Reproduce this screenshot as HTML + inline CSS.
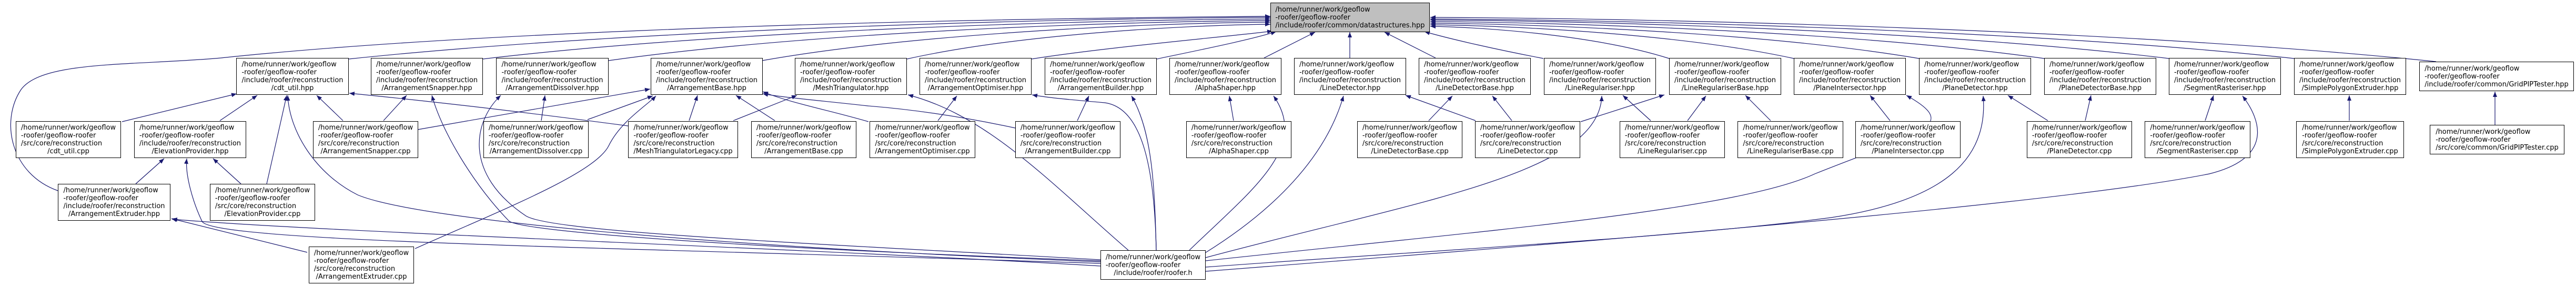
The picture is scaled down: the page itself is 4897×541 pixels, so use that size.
<!DOCTYPE html>
<html><head><meta charset="utf-8">
<style>
html,body{margin:0;padding:0;background:#fff;}
body{width:4897px;height:541px;position:relative;overflow:hidden;}
svg{position:absolute;left:0;top:0;}
.n{position:absolute;border:1px solid #000;background:#fff;box-sizing:border-box;display:flex;align-items:center;justify-content:center;font:13px/15px "DejaVu Sans","Liberation Sans",sans-serif;color:#000;}
.n>div{white-space:nowrap;text-align:left;}
.n .c{text-align:center;}
.g{background:#bfbfbf;}
</style></head><body>
<svg width="4897" height="541" viewBox="0 0 4897 541">
<defs><marker id="a" markerUnits="userSpaceOnUse" markerWidth="11" markerHeight="8" refX="10" refY="4" orient="auto"><path d="M0,0 L10,4 L0,8 z" fill="#191970"/></marker></defs>
<g fill="none" stroke="#191970" stroke-width="1.2" marker-end="url(#a)">
<!-- to datastructures -->
<path d="M110,362 C20,330 0,230 40,170 C80,115 250,125 420,110 C800,70 1500,38 2415,31"/>
<path d="M663,112 C1189,57 1977,35 2415,33"/>
<path d="M918,112 C1367,59 2041,38 2415,36"/>
<path d="M1157,115 C1534,62 2100,41 2415,39"/>
<path d="M1449,115 C1739,64 2173,44 2415,42"/>
<path d="M1724,112 C1931,66 2242,48 2415,46"/>
<path d="M1961,112 C2100,90 2330,70 2419,59"/>
<path d="M2199,112 C2280,95 2380,75 2426,60"/>
<path d="M2403,110 L2500,61"/>
<path d="M2566,110 L2566,61"/>
<path d="M2729,110 L2632,61"/>
<path d="M2934,111 C2850,95 2760,75 2708,60"/>
<path d="M3173,111 C3037,68 2832,52 2719,50"/>
<path d="M3410,111 C3203,66 2892,49 2719,47"/>
<path d="M3648,111 C3369,64 2951,46 2719,44"/>
<path d="M3886,111 C3536,62 3011,43 2719,41"/>
<path d="M4123,111 C3702,60 3070,40 2719,38"/>
<path d="M4361,111 C3868,58 3130,38 2719,36"/>
<path d="M4631,117 C4057,58 3197,35 2719,33"/>
<!-- cpp -> hpp -->
<path d="M232,231 L450,178"/>
<path d="M418,229 L489,181"/>
<path d="M507,349 L545,181"/>
<path d="M652,229 L602,181"/>
<path d="M1194,239 Q900,200 664,177"/>
<path d="M729,229 L773,181"/>
<path d="M1029,229 L1036,181"/>
<path d="M794,246 L1236,169"/>
<path d="M1117,227 L1241,182"/>
<path d="M789,472 C950,400 1130,330 1157,277 C1180,230 1230,200 1247,182"/>
<path d="M1310,229 L1326,181"/>
<path d="M1473,229 L1399,181"/>
<path d="M1651,231 C1580,210 1500,195 1450,174"/>
<path d="M1930,243 C1800,215 1700,205 1650,201 C1550,190 1490,185 1450,178"/>
<path d="M1394,229 L1515,181"/>
<path d="M258,349 L312,301"/>
<path d="M458,349 L405,301"/>
<path d="M584,479 L326,415"/>
<path d="M1783,229 L1819,182"/>
<path d="M2048,229 L2070,182"/>
<path d="M2345,229 L2337,182"/>
<path d="M2716,229 L2761,182"/>
<path d="M2874,229 L2837,182"/>
<path d="M2805,229 L2672,181"/>
<path d="M3138,229 L3085,181"/>
<path d="M3005,231 L3164,180"/>
<path d="M3208,229 L3243,182"/>
<path d="M3366,229 L3318,181"/>
<path d="M3593,229 L3555,181"/>
<path d="M3893,229 L3817,181"/>
<path d="M3964,229 L3975,181"/>
<path d="M4192,229 L4208,181"/>
<path d="M4466,229 L4466,181"/>
<path d="M4743,237 L4743,174"/>
<!-- roofer.h -> headers -->
<path d="M2092,505 C1500,470 600,440 327,416"/>
<path d="M2092,500 C1200,470 400,460 384,420 C365,380 352,330 355,301"/>
<path d="M2092,497 C1400,470 800,420 680,370 C600,330 550,250 547,181"/>
<path d="M2092,495 C1400,470 1000,440 968,420 C900,350 840,250 821,181"/>
<path d="M2092,493 C1500,460 1050,440 1000,410 C880,330 900,230 952,181"/>
<path d="M2145,475 C2000,350 1880,220 1726,180"/>
<path d="M2198,475 C2195,330 2175,205 2100,195 C2020,188 1990,185 1962,180"/>
<path d="M2198,475 C2195,350 2190,250 2151,182"/>
<path d="M2261,475 C2380,360 2490,280 2421,182"/>
<path d="M2291,480 C2420,400 2520,300 2554,182"/>
<path d="M2292,489 C2700,380 3040,330 3045,182"/>
<path d="M2292,495 C2800,440 3300,400 3450,330 C3650,250 3730,240 3624,181"/>
<path d="M2292,507 C2800,470 3200,450 3481,413 C3700,380 3780,300 3770,182"/>
<path d="M2292,515 C3000,460 3900,390 4200,330 C4320,300 4300,230 4263,182"/>
</g>
</svg>

<div class="n g" style="left:2415px;top:5px;width:303px;height:56px"><div><div>/home/runner/work/geoflow</div><div>-roofer/geoflow-roofer</div><div>/include/roofer/common/datastructures.hpp</div></div></div>

<div class="n" style="left:449px;top:110px;width:214px;height:70px"><div><div>/home/runner/work/geoflow</div><div>-roofer/geoflow-roofer</div><div>/include/roofer/reconstruction</div><div class="c">/cdt_util.hpp</div></div></div>
<div class="n" style="left:705px;top:110px;width:213px;height:70px"><div><div>/home/runner/work/geoflow</div><div>-roofer/geoflow-roofer</div><div>/include/roofer/reconstruction</div><div class="c">/ArrangementSnapper.hpp</div></div></div>
<div class="n" style="left:943px;top:110px;width:214px;height:70px"><div><div>/home/runner/work/geoflow</div><div>-roofer/geoflow-roofer</div><div>/include/roofer/reconstruction</div><div class="c">/ArrangementDissolver.hpp</div></div></div>
<div class="n" style="left:1237px;top:110px;width:213px;height:70px"><div><div>/home/runner/work/geoflow</div><div>-roofer/geoflow-roofer</div><div>/include/roofer/reconstruction</div><div class="c">/ArrangementBase.hpp</div></div></div>
<div class="n" style="left:1511px;top:110px;width:213px;height:70px"><div><div>/home/runner/work/geoflow</div><div>-roofer/geoflow-roofer</div><div>/include/roofer/reconstruction</div><div class="c">/MeshTriangulator.hpp</div></div></div>
<div class="n" style="left:1748px;top:110px;width:213px;height:70px"><div><div>/home/runner/work/geoflow</div><div>-roofer/geoflow-roofer</div><div>/include/roofer/reconstruction</div><div class="c">/ArrangementOptimiser.hpp</div></div></div>
<div class="n" style="left:1986px;top:110px;width:213px;height:70px"><div><div>/home/runner/work/geoflow</div><div>-roofer/geoflow-roofer</div><div>/include/roofer/reconstruction</div><div class="c">/ArrangementBuilder.hpp</div></div></div>
<div class="n" style="left:2223px;top:110px;width:213px;height:70px"><div><div>/home/runner/work/geoflow</div><div>-roofer/geoflow-roofer</div><div>/include/roofer/reconstruction</div><div class="c">/AlphaShaper.hpp</div></div></div>
<div class="n" style="left:2460px;top:110px;width:213px;height:70px"><div><div>/home/runner/work/geoflow</div><div>-roofer/geoflow-roofer</div><div>/include/roofer/reconstruction</div><div class="c">/LineDetector.hpp</div></div></div>
<div class="n" style="left:2697px;top:110px;width:213px;height:70px"><div><div>/home/runner/work/geoflow</div><div>-roofer/geoflow-roofer</div><div>/include/roofer/reconstruction</div><div class="c">/LineDetectorBase.hpp</div></div></div>
<div class="n" style="left:2935px;top:110px;width:213px;height:70px"><div><div>/home/runner/work/geoflow</div><div>-roofer/geoflow-roofer</div><div>/include/roofer/reconstruction</div><div class="c">/LineRegulariser.hpp</div></div></div>
<div class="n" style="left:3173px;top:110px;width:213px;height:70px"><div><div>/home/runner/work/geoflow</div><div>-roofer/geoflow-roofer</div><div>/include/roofer/reconstruction</div><div class="c">/LineRegulariserBase.hpp</div></div></div>
<div class="n" style="left:3410px;top:110px;width:213px;height:70px"><div><div>/home/runner/work/geoflow</div><div>-roofer/geoflow-roofer</div><div>/include/roofer/reconstruction</div><div class="c">/PlaneIntersector.hpp</div></div></div>
<div class="n" style="left:3648px;top:110px;width:213px;height:70px"><div><div>/home/runner/work/geoflow</div><div>-roofer/geoflow-roofer</div><div>/include/roofer/reconstruction</div><div class="c">/PlaneDetector.hpp</div></div></div>
<div class="n" style="left:3886px;top:110px;width:213px;height:70px"><div><div>/home/runner/work/geoflow</div><div>-roofer/geoflow-roofer</div><div>/include/roofer/reconstruction</div><div class="c">/PlaneDetectorBase.hpp</div></div></div>
<div class="n" style="left:4123px;top:110px;width:213px;height:70px"><div><div>/home/runner/work/geoflow</div><div>-roofer/geoflow-roofer</div><div>/include/roofer/reconstruction</div><div class="c">/SegmentRasteriser.hpp</div></div></div>
<div class="n" style="left:4361px;top:110px;width:213px;height:70px"><div><div>/home/runner/work/geoflow</div><div>-roofer/geoflow-roofer</div><div>/include/roofer/reconstruction</div><div class="c">/SimplePolygonExtruder.hpp</div></div></div>
<div class="n" style="left:4599px;top:117px;width:294px;height:56px"><div><div>/home/runner/work/geoflow</div><div>-roofer/geoflow-roofer</div><div>/include/roofer/common/GridPIPTester.hpp</div></div></div>

<div class="n" style="left:30px;top:230px;width:200px;height:70px"><div><div>/home/runner/work/geoflow</div><div>-roofer/geoflow-roofer</div><div>/src/core/reconstruction</div><div class="c">/cdt_util.cpp</div></div></div>
<div class="n" style="left:255px;top:230px;width:213px;height:70px"><div><div>/home/runner/work/geoflow</div><div>-roofer/geoflow-roofer</div><div>/include/roofer/reconstruction</div><div class="c">/ElevationProvider.hpp</div></div></div>
<div class="n" style="left:595px;top:230px;width:200px;height:70px"><div><div>/home/runner/work/geoflow</div><div>-roofer/geoflow-roofer</div><div>/src/core/reconstruction</div><div class="c">/ArrangementSnapper.cpp</div></div></div>
<div class="n" style="left:919px;top:230px;width:200px;height:70px"><div><div>/home/runner/work/geoflow</div><div>-roofer/geoflow-roofer</div><div>/src/core/reconstruction</div><div class="c">/ArrangementDissolver.cpp</div></div></div>
<div class="n" style="left:1194px;top:230px;width:209px;height:70px"><div><div>/home/runner/work/geoflow</div><div>-roofer/geoflow-roofer</div><div>/src/core/reconstruction</div><div class="c">/MeshTriangulatorLegacy.cpp</div></div></div>
<div class="n" style="left:1428px;top:230px;width:200px;height:70px"><div><div>/home/runner/work/geoflow</div><div>-roofer/geoflow-roofer</div><div>/src/core/reconstruction</div><div class="c">/ArrangementBase.cpp</div></div></div>
<div class="n" style="left:1653px;top:230px;width:201px;height:70px"><div><div>/home/runner/work/geoflow</div><div>-roofer/geoflow-roofer</div><div>/src/core/reconstruction</div><div class="c">/ArrangementOptimiser.cpp</div></div></div>
<div class="n" style="left:1930px;top:230px;width:200px;height:70px"><div><div>/home/runner/work/geoflow</div><div>-roofer/geoflow-roofer</div><div>/src/core/reconstruction</div><div class="c">/ArrangementBuilder.cpp</div></div></div>
<div class="n" style="left:2255px;top:230px;width:200px;height:70px"><div><div>/home/runner/work/geoflow</div><div>-roofer/geoflow-roofer</div><div>/src/core/reconstruction</div><div class="c">/AlphaShaper.cpp</div></div></div>
<div class="n" style="left:2580px;top:230px;width:200px;height:70px"><div><div>/home/runner/work/geoflow</div><div>-roofer/geoflow-roofer</div><div>/src/core/reconstruction</div><div class="c">/LineDetectorBase.cpp</div></div></div>
<div class="n" style="left:2804px;top:230px;width:200px;height:70px"><div><div>/home/runner/work/geoflow</div><div>-roofer/geoflow-roofer</div><div>/src/core/reconstruction</div><div class="c">/LineDetector.cpp</div></div></div>
<div class="n" style="left:3079px;top:230px;width:200px;height:70px"><div><div>/home/runner/work/geoflow</div><div>-roofer/geoflow-roofer</div><div>/src/core/reconstruction</div><div class="c">/LineRegulariser.cpp</div></div></div>
<div class="n" style="left:3303px;top:230px;width:201px;height:70px"><div><div>/home/runner/work/geoflow</div><div>-roofer/geoflow-roofer</div><div>/src/core/reconstruction</div><div class="c">/LineRegulariserBase.cpp</div></div></div>
<div class="n" style="left:3527px;top:230px;width:200px;height:70px"><div><div>/home/runner/work/geoflow</div><div>-roofer/geoflow-roofer</div><div>/src/core/reconstruction</div><div class="c">/PlaneIntersector.cpp</div></div></div>
<div class="n" style="left:3853px;top:230px;width:200px;height:70px"><div><div>/home/runner/work/geoflow</div><div>-roofer/geoflow-roofer</div><div>/src/core/reconstruction</div><div class="c">/PlaneDetector.cpp</div></div></div>
<div class="n" style="left:4077px;top:230px;width:201px;height:70px"><div><div>/home/runner/work/geoflow</div><div>-roofer/geoflow-roofer</div><div>/src/core/reconstruction</div><div class="c">/SegmentRasteriser.cpp</div></div></div>
<div class="n" style="left:4365px;top:230px;width:205px;height:70px"><div><div>/home/runner/work/geoflow</div><div>-roofer/geoflow-roofer</div><div>/src/core/reconstruction</div><div class="c">/SimplePolygonExtruder.cpp</div></div></div>
<div class="n" style="left:4619px;top:237px;width:256px;height:56px"><div><div>/home/runner/work/geoflow</div><div>-roofer/geoflow-roofer</div><div>/src/core/common/GridPIPTester.cpp</div></div></div>

<div class="n" style="left:110px;top:349px;width:214px;height:70px"><div><div>/home/runner/work/geoflow</div><div>-roofer/geoflow-roofer</div><div>/include/roofer/reconstruction</div><div class="c">/ArrangementExtruder.hpp</div></div></div>
<div class="n" style="left:399px;top:349px;width:200px;height:70px"><div><div>/home/runner/work/geoflow</div><div>-roofer/geoflow-roofer</div><div>/src/core/reconstruction</div><div class="c">/ElevationProvider.cpp</div></div></div>

<div class="n" style="left:587px;top:468px;width:200px;height:70px"><div><div>/home/runner/work/geoflow</div><div>-roofer/geoflow-roofer</div><div>/src/core/reconstruction</div><div class="c">/ArrangementExtruder.cpp</div></div></div>
<div class="n" style="left:2092px;top:475px;width:200px;height:56px"><div><div>/home/runner/work/geoflow</div><div>-roofer/geoflow-roofer</div><div class="c">/include/roofer/roofer.h</div></div></div>
</body></html>
